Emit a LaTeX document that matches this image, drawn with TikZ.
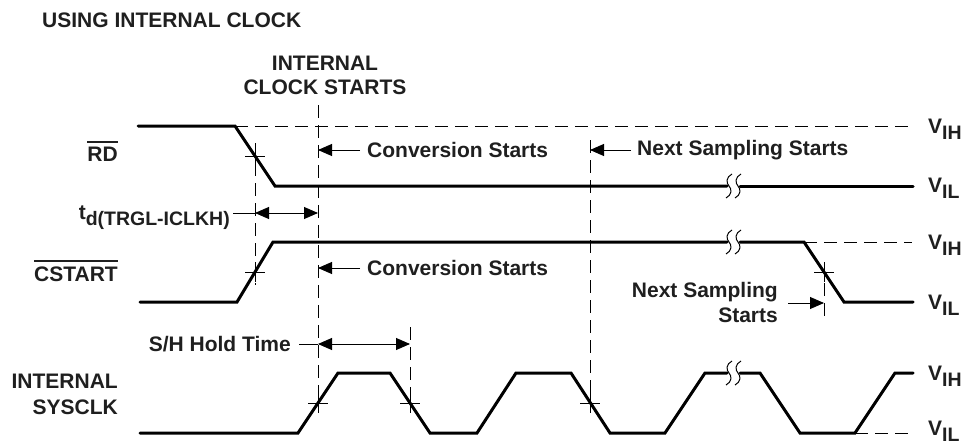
\documentclass[tikz,border=0pt]{standalone}
\usepackage{fontspec}
\setmainfont{Liberation Sans}
\usetikzlibrary{arrows.meta}
\newcommand\ovl[1]{\leavevmode\vbox{\hrule height 2pt\kern 4pt\hbox{#1}}}
\newcommand\subx[1]{\raisebox{-6pt}{\fontsize{19.5}{22}\selectfont #1}}
\begin{document}
\begin{tikzpicture}[x=1pt,y=-1pt,
  sig/.style={line width=3pt, line cap=round, line join=miter},
  guide/.style={line width=0.9pt, dash pattern=on 13pt off 7pt},
  thinl/.style={line width=0.9pt},
  lbl/.style={font=\fontsize{21}{25}\selectfont\bfseries, inner sep=0pt, text=black!88},
  tip/.style={-{Triangle[length=14pt,width=12pt]}},
  dtip/.style={{Triangle[length=14pt,width=12pt]}-{Triangle[length=14pt,width=12pt]}},
  brk/.pic={
    \draw[line width=1pt] (3,-12) .. controls (-3,-9) and (-3,-3) .. (0,0) .. controls (3,3) and (3,9) .. (-3,12);
    \draw[line width=1pt] (12,-12) .. controls (6,-9) and (6,-3) .. (9,0) .. controls (12,3) and (12,9) .. (6,12);
  },
  crossmark/.pic={\draw[thinl] (-10,0) -- (10,0) (0,-10) -- (0,10);}
]
\useasboundingbox (0,0) rectangle (964,444);

% titles
\node[lbl, anchor=west] (title) at (42,20) {USING INTERNAL CLOCK};
\node[lbl, align=center, font=\fontsize{21}{24}\selectfont\bfseries] (ics) at (325,75) {INTERNAL\\CLOCK STARTS};

% left labels
\node[lbl, anchor=base east] (rd) at (118,161) {\ovl{RD}};
\node[lbl, anchor=base east] (cs) at (118,281) {\ovl{CSTART}};
\node[lbl, align=right, anchor=east, font=\fontsize{21}{26}\selectfont\bfseries] (sys) at (118,394) {INTERNAL\\SYSCLK};

% right level labels
\node[lbl, anchor=base west] (v1) at (928,133) {V\subx{IH}};
\node[lbl, anchor=base west] (v2) at (928,192) {V\subx{IL}};
\node[lbl, anchor=base west] (v3) at (928,249) {V\subx{IH}};
\node[lbl, anchor=base west] (v4) at (928,309) {V\subx{IL}};
\node[lbl, anchor=base west] (v5) at (928,380) {V\subx{IH}};
\node[lbl, anchor=base west] (v6) at (928,435) {V\subx{IL}};

% dashed reference lines
\draw[guide] (235,126) -- (912,126);
\draw[guide] (804,242) -- (912,242);
\draw[guide] (855,433) -- (910,433);
\draw[guide] (255,143) -- (255,285);
\draw[guide] (318,105) -- (318,412);
\draw[guide] (410,327) -- (410,412);
\draw[guide] (590,140) -- (590,412);
\draw[guide] (824,263) -- (824,323);

% waveforms
\draw[sig] (138,126) -- (235,126) -- (275,186) -- (727,186);
\draw[sig] (740,186) -- (913,186);
\draw[sig] (140,302) -- (237,302) -- (273,242) -- (727,242);
\draw[sig] (740,242) -- (804,242) -- (844,302) -- (913,302);
\draw[sig] (140,433) -- (298,433) -- (338,373) -- (390,373) -- (430,433) -- (477,433) -- (516,373) -- (571,373) -- (610,433) -- (665,433) -- (705,373) -- (727,373);
\draw[sig] (740,373) -- (760,373) -- (800,433) -- (855,433) -- (895,373) -- (913,373);

% break marks
\pic at (729,186) {brk};
\pic at (729,242) {brk};
\pic at (729,373) {brk};

% crossing marks
\pic at (255,156) {crossmark};
\pic at (255,272) {crossmark};
\pic at (318,403) {crossmark};
\pic at (410,403) {crossmark};
\pic at (590,403) {crossmark};
\pic at (824,272) {crossmark};

% annotation arrows
\coordinate (c1tip) at (318,150);
\node[lbl, anchor=west] (conv1) at (367,150) {Conversion Starts};
\draw[thinl, tip, shorten <=7pt] (conv1.west) -- (c1tip);

\coordinate (c2tip) at (318,268);
\node[lbl, anchor=west] (conv2) at (367,268) {Conversion Starts};
\draw[thinl, tip, shorten <=7pt] (conv2.west) -- (c2tip);

\coordinate (n1tip) at (590,150);
\node[lbl, anchor=west] (ns1) at (637,150) {Next Sampling Starts};
\draw[thinl, tip, shorten <=6pt] (ns1.west) -- (n1tip);

\coordinate (n2tip) at (824,303);
\node[lbl, align=right, anchor=east] (ns2) at (778,302) {Next Sampling\\Starts};
\draw[thinl, tip, shorten <=10pt] (ns2.east |- n2tip) -- (n2tip);

\coordinate (tdL) at (255,213);
\coordinate (tdR) at (318,213);
\node[lbl, anchor=base east] (td) at (230,219) {t\subx{d(TRGL-ICLKH)}};
\draw[thinl, shorten <=3pt] (td.east |- tdL) -- (tdL);
\draw[thinl, dtip] (tdL) -- (tdR);

\coordinate (shL) at (318,344);
\coordinate (shR) at (410,344);
\node[lbl, anchor=east] (sh) at (291,344) {S/H Hold Time};
\draw[thinl, shorten <=8pt] (sh.east) -- (shL);
\draw[thinl, dtip] (shL) -- (shR);
\end{tikzpicture}
\end{document}
